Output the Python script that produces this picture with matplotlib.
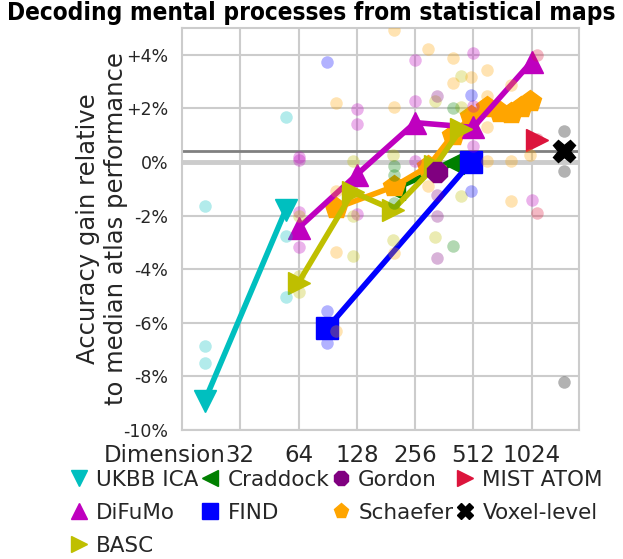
import numpy as np
import matplotlib
matplotlib.use("Agg")
import matplotlib.pyplot as plt
from matplotlib.lines import Line2D

# atlas names, as in the legend
atlas_names = ["UKBB ICA", "DiFuMo", "BASC", "Craddock", "FIND",
               "Gordon", "Schaefer", "MIST ATOM", "Voxel-level"]

# per-atlas accuracy gain (%) at each dimension (line + big markers)
ukbb_dims = [21, 55]
ukbb_gain = [-8.9, -1.78]
difumo_dims = [64, 128, 256, 512, 1024]
difumo_gain = [-2.46, -0.47, 1.47, 1.29, 3.74]
basc_dims = [64, 122, 197, 325, 444]
basc_gain = [-4.5, -1.12, -1.78, -0.15, 1.25]
craddock_dims = [200, 400]
craddock_gain = [-1.0, -0.05]
find_dims = [90, 499]
find_gain = [-6.2, 0.0]
gordon_dims = [333]
gordon_gain = [-0.37]
schaefer_dims = [100, 200, 300, 400, 500, 600, 700, 800, 900, 1000]
schaefer_gain = [-1.72, -0.91, -0.16, 1.0, 1.7, 2.07, 1.85, 1.83, 2.05, 2.26]
mist_dims = [1093]
mist_gain = [0.83]
voxel_dims = [1500]
voxel_gain = [0.4]

# individual (per-dataset) points, drawn as faint dots
ukbb_dot_dims = [21, 21, 21, 55, 55, 55]
ukbb_dot_gain = [-1.66, -6.85, -7.5, 1.68, -2.75, -5.05]
difumo_dot_dims = [64, 64, 64, 64, 128, 128, 128, 256, 256, 256,
                   512, 512, 512, 1024]
difumo_dot_gain = [0.19, 0.06, -1.88, -3.17, 1.98, 1.42, -1.95, 3.8, 2.26,
                   0.02, 4.07, 2.1, 0.58, -1.41]
basc_dot_dims = [64, 64, 64, 122, 122, 122, 197, 197, 325, 325, 444, 444, 444]
basc_dot_gain = [-2.03, -4.27, -4.85, 0.02, -2.03, -3.52, 0.27, -2.9, 2.26,
                 -2.78, 3.22, 2.07, -1.28]
craddock_dot_dims = [200, 200, 200, 400, 400]
craddock_dot_gain = [-0.16, -0.47, -1.53, 2.01, -3.15]
find_dot_dims = [90, 90, 90, 499, 499]
find_dot_gain = [3.72, -5.55, -6.74, 2.51, -1.1]
gordon_dot_dims = [333, 333, 333, 333]
gordon_dot_gain = [2.45, -1.22, -2.03, -3.58]
schaefer_dot_dims = [100, 100, 100, 100, 200, 200, 200, 300, 300, 400, 400,
                     500, 600, 600, 600, 600, 800, 800, 800, 1000]
schaefer_dot_gain = [2.22, -1.1, -3.34, -6.3, 4.91, 2.04, -3.4, 4.22, -0.91,
                     3.88, 2.95, 3.19, 3.44, 2.47, 1.3, 0.02, 2.88, 0.02,
                     -1.47, 0.27]
mist_dot_dims = [1093, 1093, 1093]
mist_dot_gain = [4.0, 0.85, -1.9]
voxel_dot_dims = [1500, 1500, 1500]
voxel_dot_gain = [1.17, -0.35, -8.22]

xtick_values = [32, 64, 128, 256, 512, 1024]
ytick_values = [-10, -8, -6, -4, -2, 0, 2, 4]
ytick_labels = ["-10%", "-8%", "-6%", "-4%", "-2%", "0%", "+2%", "+4%"]

atlas_lines = [
    (ukbb_dims, ukbb_gain), (difumo_dims, difumo_gain),
    (basc_dims, basc_gain), (craddock_dims, craddock_gain),
    (find_dims, find_gain), (gordon_dims, gordon_gain),
    (schaefer_dims, schaefer_gain), (mist_dims, mist_gain),
    (voxel_dims, voxel_gain),
]
atlas_dots = [
    (ukbb_dot_dims, ukbb_dot_gain), (difumo_dot_dims, difumo_dot_gain),
    (basc_dot_dims, basc_dot_gain), (craddock_dot_dims, craddock_dot_gain),
    (find_dot_dims, find_dot_gain), (gordon_dot_dims, gordon_dot_gain),
    (schaefer_dot_dims, schaefer_dot_gain), (mist_dot_dims, mist_dot_gain),
    (voxel_dot_dims, voxel_dot_gain),
]

colors = ["c", "m", "y", "g", "b", "purple", "orange", "crimson", "k"]
markers = ["v", "^", ">", "<", "s", "8", "p", ">", "X"]
line_zorder = [3, 5, 6, 3.5, 8, 7, 4, 8, 9]

fig = plt.figure(figsize=(6.23, 5.59), dpi=100)
ax = fig.add_axes([182 / 623, 1 - 430 / 559, 397 / 623, 402 / 559])

# reference lines: median atlas (0) and voxel-level
ax.axhline(0, color=".8", lw=3.5, zorder=1)
ax.axhline(voxel_gain[0], color=".5", lw=2, zorder=1)

# one line with big markers per atlas
for (dims, gain), color, marker, z in zip(atlas_lines, colors, markers,
                                          line_zorder):
    ax.plot(dims, gain, color=color, marker=marker, lw=4, ms=16,
            mec=color, zorder=z)

# faint dots for the individual values
for (dims, gain), color in zip(atlas_dots, colors):
    ax.plot(dims, gain, "o", color=color, ms=9, alpha=0.3, mew=0,
            zorder=10)

ax.set_xscale("log", base=2)
ax.set_xlim(16, 1800)
ax.set_ylim(-10, 5)
ax.set_xticks(xtick_values)
ax.set_xticklabels([str(v) for v in xtick_values])
ax.xaxis.set_minor_locator(matplotlib.ticker.NullLocator())
ax.set_yticks(ytick_values)
ax.set_yticklabels(ytick_labels)
ax.tick_params(axis="x", length=0, pad=10.4, labelsize=16.5, colors=".15")
ax.tick_params(axis="y", length=0, pad=10, labelsize=12.5, colors=".15")
ax.grid(True, color=".8", lw=1.5, zorder=0)
ax.set_axisbelow(True)
for spine in ax.spines.values():
    spine.set_color(".8")
    spine.set_linewidth(1.5)

ax.set_ylabel("Accuracy gain relative\nto median atlas performance",
              fontsize=17.5, color=".15")
ax.yaxis.set_label_coords(-0.137, 0.5)

fig.text(226 / 623, 1 - 461.5 / 559, "Dimension", ha="right", va="baseline",
         fontsize=16.5, color=".15")

fig.text(0.5, 1 - 13 / 559, "Decoding mental processes from statistical maps",
         ha="center", va="center", fontsize=17.5, fontweight="bold",
         fontstretch="condensed")

# legend below the axes
handles = [Line2D([], [], ls="none", marker=m, color=c, ms=11)
           for m, c in zip(markers, colors)]
fig.legend(handles, atlas_names, ncol=4, loc="upper left",
           bbox_to_anchor=(68 / 623, 1 - 470 / 559), frameon=False,
           fontsize=15.5, handlelength=1.0, handletextpad=0.3,
           columnspacing=0.05, labelspacing=0.6, borderpad=0,
           borderaxespad=0, labelcolor=".15")

fig.savefig("out.png", dpi=100)
